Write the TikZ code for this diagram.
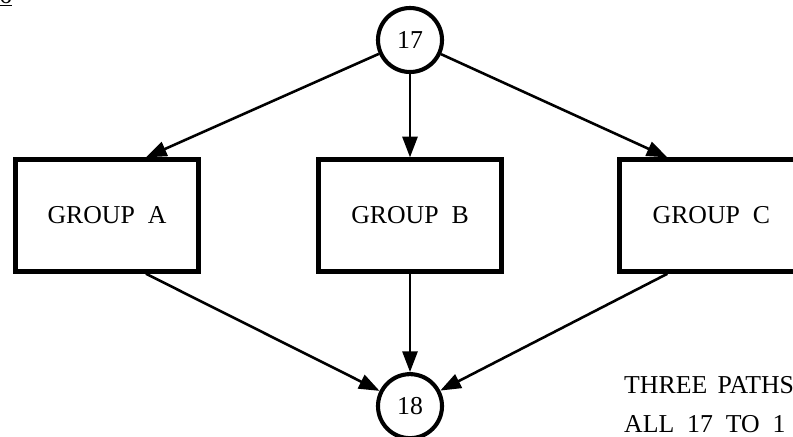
\documentclass[tikz,border=0pt]{standalone}
\usepackage{fontspec}
\setmainfont{Liberation Serif}
\usetikzlibrary{positioning,arrows.meta}

\begin{document}
\begin{tikzpicture}[
        x=0.03cm, y=-0.03cm,
        junction/.style={circle, draw=black, line width=3.5pt, minimum size=1.92cm, inner sep=0pt, font=\fontsize{22}{26}\selectfont},
        group/.style={rectangle, draw=black, line width=4pt, minimum width=5.5cm, minimum height=3.35cm, font=\fontsize{22}{26}\selectfont},
        note/.style={anchor=base west, inner sep=0pt, font=\fontsize{22}{26}\selectfont},
        link/.style={-{Triangle[length=0.62cm, width=0.45cm]}, line width=2.2pt},
    ]
    \useasboundingbox (0,0) rectangle (793,436);
    \clip (0,0) rectangle (793,436);

    \node[junction] (n17) at (410,40) {17};
    \node[group] (groupB) [below=2.5cm of n17] {GROUP\ \ B};
    \node[group] (groupA) [left=3.45cm of groupB] {GROUP\ \ A};
    \node[group] (groupC) [right=3.4cm of groupB] {GROUP\ \ C};
    \node[junction] (n18) [below=2.95cm of groupB] {18};

    \node[note] (pagenum) at (-1,3) {\underline{6}};
    \node[note] (note1) at (624,393) {THREE\hspace{0.4em}PATHS};
    \node[note] (note2) at (624,432) {ALL\ \ 17\ \ TO\ \ 1};

    \draw[link] (n17) -- ([xshift=-1.65cm]groupA.north east);
    \draw[link] (n17) -- (groupB);
    \draw[link] (n17) -- ([xshift=1.5cm]groupC.north west);
    \draw[link] ([xshift=-1.65cm]groupA.south east) -- (n18);
    \draw[link] (groupB) -- (n18);
    \draw[link] ([xshift=1.5cm]groupC.south west) -- (n18);
\end{tikzpicture}
\end{document}
